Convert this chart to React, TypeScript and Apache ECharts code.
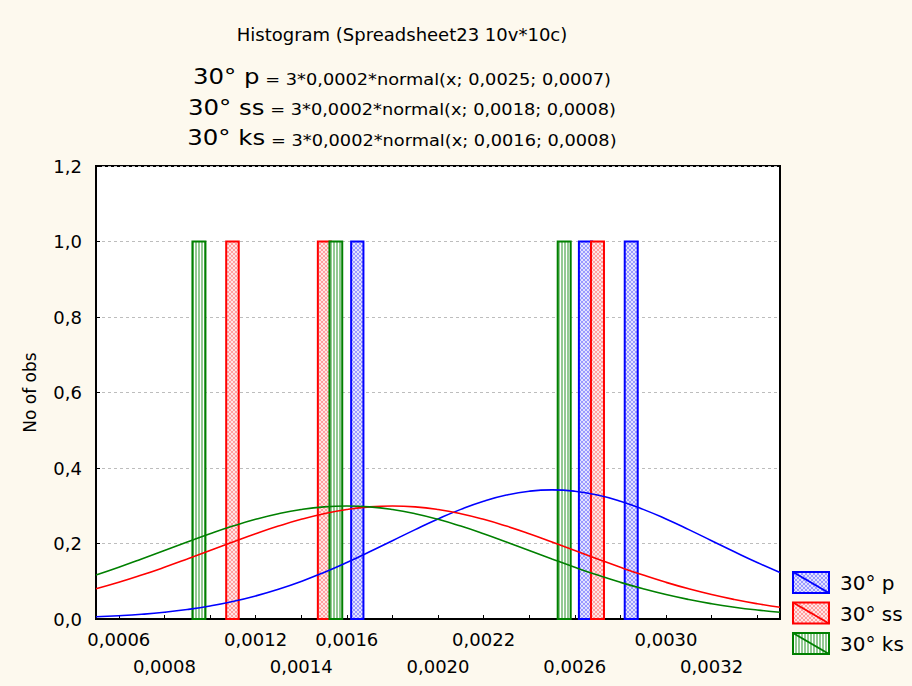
import React, { useEffect, useRef } from "react";
import * as echarts from "echarts";

const BG = "#fdf9ee";
const FONT = "'DejaVu Sans', 'Liberation Sans', sans-serif";

const titleText = "Histogram (Spreadsheet23 10v*10c)";
const seriesNames = ["30° p", "30° ss", "30° ks"];
const formulaTexts = [
  " = 3*0,0002*normal(x; 0,0025; 0,0007)",
  " = 3*0,0002*normal(x; 0,0018; 0,0008)",
  " = 3*0,0002*normal(x; 0,0016; 0,0008)",
];
const seriesColors = ["#0000ff", "#ff0000", "#008000"];

const xTickValues = [
  0.0006, 0.0008, 0.001, 0.0012, 0.0014, 0.0016, 0.0018, 0.002, 0.0022, 0.0024,
  0.0026, 0.0028, 0.003, 0.0032, 0.0034,
];
const xLabelTop = [0.0006, 0.0012, 0.0016, 0.0022, 0.003];
const xLabelBottom = [0.0008, 0.0014, 0.002, 0.0026, 0.0032];

// histogram bins: [from, to, count]
const binsP = [
  [0.001619, 0.001673, 1],
  [0.002618, 0.002676, 1],
  [0.002819, 0.002876, 1],
];
const binsSS = [
  [0.001071, 0.001126, 1],
  [0.001473, 0.00153, 1],
  [0.002671, 0.002728, 1],
];
const binsKS = [
  [0.000923, 0.00098, 1],
  [0.001524, 0.00158, 1],
  [0.002525, 0.002582, 1],
];

const curveX = [
  0.0005, 0.0006, 0.0007, 0.0008, 0.0009, 0.001, 0.0011, 0.0012, 0.0013, 0.0014,
  0.0015, 0.0016, 0.0017, 0.0018, 0.0019, 0.002, 0.0021, 0.0022, 0.0023, 0.0024,
  0.0025, 0.0026, 0.0027, 0.0028, 0.0029, 0.003, 0.0031, 0.0032, 0.0033, 0.0034,
  0.0035,
];
const curveP = [
  0.0058, 0.0086, 0.0125, 0.0179, 0.0251, 0.0344, 0.0463, 0.061, 0.0787, 0.0995,
  0.1233, 0.1496, 0.178, 0.2074, 0.2368, 0.2649, 0.2904, 0.312, 0.3283, 0.3385,
  0.342, 0.3385, 0.3283, 0.312, 0.2904, 0.2649, 0.2368, 0.2074, 0.178, 0.1496,
  0.1233,
];
const curveSS = [
  0.0799, 0.0971, 0.1163, 0.137, 0.1589, 0.1815, 0.204, 0.2259, 0.2461, 0.2641,
  0.2789, 0.29, 0.2969, 0.2992, 0.2969, 0.29, 0.2789, 0.2641, 0.2461, 0.2259,
  0.204, 0.1815, 0.1589, 0.137, 0.1163, 0.0971, 0.0799, 0.0647, 0.0516, 0.0405,
  0.0313,
];
const curveKS = [
  0.1163, 0.137, 0.1589, 0.1815, 0.204, 0.2259, 0.2461, 0.2641, 0.2789, 0.29,
  0.2969, 0.2992, 0.2969, 0.29, 0.2789, 0.2641, 0.2461, 0.2259, 0.204, 0.1815,
  0.1589, 0.137, 0.1163, 0.0971, 0.0799, 0.0647, 0.0516, 0.0405, 0.0313, 0.0238,
  0.0178,
];

function makePattern(kind: string): any {
  const c = document.createElement("canvas");
  const ctx = c.getContext("2d")!;
  if (kind === "green") {
    c.width = 3;
    c.height = 3;
    ctx.fillStyle = "#ffffff";
    ctx.fillRect(0, 0, 3, 3);
    ctx.fillStyle = "#93c993";
    ctx.fillRect(0, 0, 2, 3);
  } else {
    c.width = 4;
    c.height = 4;
    const base = kind === "blue" ? "#e2e2ff" : "#ffe4e4";
    const line = kind === "blue" ? "#9a9aff" : "#ffa0a0";
    ctx.fillStyle = base;
    ctx.fillRect(0, 0, 4, 4);
    ctx.fillStyle = line;
    for (let i = 0; i < 4; i++) {
      ctx.fillRect(i, i, 1, 1);
      ctx.fillRect(3 - i, i, 1, 1);
    }
  }
  return { image: c, repeat: "repeat" };
}

const fmtX = (v: number) => v.toFixed(4).replace(".", ",");

export default function App() {
  const ref = useRef<HTMLDivElement>(null);
  useEffect(() => {
    const el = ref.current;
    if (!el) return;
    const chart = echarts.init(el, null, { renderer: "svg" });
    const patterns = [makePattern("blue"), makePattern("red"), makePattern("green")];
    const allBins = [binsP, binsSS, binsKS];
    const curves = [curveP, curveSS, curveKS];

    const barSeries = allBins.map((bins, si) => ({
      type: "custom",
      name: seriesNames[si],
      data: bins,
      encode: { x: [0, 1], y: 2 },
      renderItem: (params: any, api: any) => {
        const p0 = api.coord([api.value(0), api.value(2)]);
        const p1 = api.coord([api.value(1), 0]);
        return {
          type: "rect",
          shape: { x: p0[0], y: p0[1], width: p1[0] - p0[0], height: p1[1] - p0[1] },
          style: { fill: patterns[si], stroke: seriesColors[si], lineWidth: 2 },
        };
      },
      z: 2,
    }));

    const lineSeries = curves.map((vals, si) => ({
      type: "line",
      name: seriesNames[si] + " fit",
      data: curveX.map((x, i) => [x, vals[i]]),
      smooth: true,
      showSymbol: false,
      symbol: "none",
      lineStyle: { color: seriesColors[si], width: 1.6 },
      z: 3,
    }));

    const legendGraphics: any[] = [];
    seriesNames.forEach((name, i) => {
      const top = 572 + i * 30.5;
      legendGraphics.push({
        type: "rect",
        shape: { x: 793, y: top, width: 36, height: 21 },
        style: { fill: patterns[i], stroke: seriesColors[i], lineWidth: 2 },
      });
      legendGraphics.push({
        type: "line",
        shape: { x1: 793, y1: top, x2: 829, y2: top + 21 },
        style: { stroke: seriesColors[i], lineWidth: 2 },
      });
      legendGraphics.push({
        type: "text",
        x: 840,
        y: top + 11,
        style: {
          text: name,
          font: `20px ${FONT}`,
          fill: "#000",
          textAlign: "left",
          textVerticalAlign: "middle",
        },
      });
    });

    const formulaGraphics = seriesNames.map((name, i) => ({
      type: "text",
      x: 402,
      y: 76 + i * 30.5,
      scaleX: 1.11,
      style: {
        text: `{a|${name}}{b|${formulaTexts[i]}}`,
        textAlign: "center",
        textVerticalAlign: "middle",
        fill: "#000",
        rich: {
          a: { fontSize: 22, fontFamily: FONT, color: "#000", verticalAlign: "bottom" },
          b: { fontSize: 16, fontFamily: FONT, color: "#000", verticalAlign: "bottom" },
        },
      },
    }));

    const option: any = {
      animation: false,
      backgroundColor: BG,
      grid: {
        left: 96,
        top: 166,
        width: 684,
        height: 453,
        show: true,
        backgroundColor: "#ffffff",
        borderColor: "#000000",
        borderWidth: 2,
        containLabel: false,
      },
      xAxis: {
        type: "value",
        min: 0.0005,
        max: 0.0035,
        axisLine: { show: true, lineStyle: { color: "#000", width: 2 } },
        axisTick: {
          show: true,
          inside: true,
          length: 4,
          customValues: xTickValues,
          lineStyle: { color: "#000", width: 1 },
        },
        axisLabel: {
          customValues: [...xLabelTop, ...xLabelBottom],
          formatter: (v: number) => {
            const s = fmtX(v);
            const bottom = xLabelBottom.some((b) => Math.abs(b - v) < 1e-9);
            return bottom ? "\n" + s : s;
          },
          fontSize: 18,
          fontFamily: FONT,
          color: "#000",
          lineHeight: 27,
          margin: 7,
          hideOverlap: false,
        },
        splitLine: { show: false },
      },
      yAxis: {
        type: "value",
        min: 0,
        max: 1.2,
        interval: 0.2,
        name: "No of obs",
        nameLocation: "middle",
        nameGap: 58,
        nameTextStyle: { fontSize: 17, fontFamily: FONT, color: "#000" },
        axisLine: { show: true, lineStyle: { color: "#000", width: 2 } },
        axisTick: { show: true, inside: true, length: 4, lineStyle: { color: "#000" } },
        axisLabel: {
          formatter: (v: number) => v.toFixed(1).replace(".", ","),
          fontSize: 18,
          fontFamily: FONT,
          color: "#000",
          margin: 14,
        },
        splitLine: { show: true, lineStyle: { color: "#bdbdbd", width: 1, type: [3, 3] } },
      },
      graphic: [
        {
          type: "text",
          x: 402,
          y: 34,
          style: {
            text: titleText,
            font: `18px ${FONT}`,
            fill: "#000",
            textAlign: "center",
            textVerticalAlign: "middle",
          },
        },
        ...formulaGraphics,
        ...legendGraphics,
      ],
      series: [...barSeries, ...lineSeries],
    };
    chart.setOption(option);
    return () => chart.dispose();
  }, []);
  return (
    <div
      ref={ref}
      style={{ position: "absolute", left: 0, top: 0, width: 912, height: 686, background: BG }}
    />
  );
}
